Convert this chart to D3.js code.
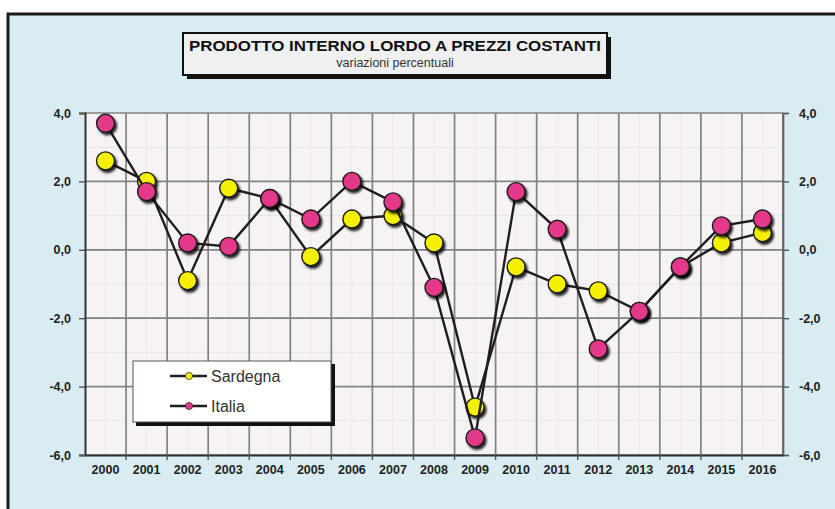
<!DOCTYPE html>
<html>
<head>
<meta charset="utf-8">
<script src="https://cdn.jsdelivr.net/npm/d3@7"></script>
<style>
  html, body { margin: 0; padding: 0; background: #ffffff; }
  svg { display: block; font-family: "Liberation Sans", Arial, sans-serif; }
</style>
</head>
<body>
<svg id="chart" width="835" height="509"></svg>
<script>
// Real GDP, annual percentage change
const years = ["2000","2001","2002","2003","2004","2005","2006","2007","2008",
               "2009","2010","2011","2012","2013","2014","2015","2016"];
const sardegna = [2.6, 2.0, -0.9, 1.8, 1.5, -0.2, 0.9, 1.0, 0.2,
                  -4.6, -0.5, -1.0, -1.2, -1.8, -0.5, 0.2, 0.5];
const italia   = [3.7, 1.7, 0.2, 0.1, 1.5, 0.9, 2.0, 1.4, -1.1,
                  -5.5, 1.7, 0.6, -2.9, -1.8, -0.5, 0.7, 0.9];
const yTicks = [-6, -4, -2, 0, 2, 4];
const seriesNames = ["Sardegna", "Italia"];
const seriesColors = ["#f4f000", "#e4388a"];

const titleMain = "PRODOTTO INTERNO LORDO A PREZZI COSTANTI";
const titleSub = "variazioni  percentuali";

const svg = d3.select("#chart");
const W = 835, H = 509;
const plot = { left: 85, right: 783, top: 113, bottom: 455 };

const defs = svg.append("defs");
const shadow = defs.append("filter").attr("id", "dotShadow")
  .attr("x", "-50%").attr("y", "-50%").attr("width", "200%").attr("height", "200%");
shadow.append("feDropShadow").attr("dx", 2).attr("dy", 2.5)
  .attr("stdDeviation", 1).attr("flood-color", "#000").attr("flood-opacity", 0.85);

// outer panel
svg.append("rect").attr("x", 8).attr("y", 14).attr("width", W).attr("height", H)
  .attr("fill", "#d9ecf2").attr("stroke", "#1a1a1a").attr("stroke-width", 3);

const x = d3.scaleBand().domain(years).range([plot.left, plot.right]).padding(0);
const y = d3.scaleLinear().domain([-6, 4]).range([plot.bottom, plot.top]);
const fmt = v => d3.format(".1f")(v).replace(".", ",").replace("−", "-");

// plot area
svg.append("rect")
  .attr("x", plot.left).attr("y", plot.top)
  .attr("width", plot.right - plot.left).attr("height", plot.bottom - plot.top)
  .attr("fill", "#f7f3f5");

// faint minor grid
const g = svg.append("g");
g.selectAll("line.minor-h").data(d3.range(-5, 4, 2)).join("line")
  .attr("x1", plot.left).attr("x2", plot.right)
  .attr("y1", d => y(d)).attr("y2", d => y(d))
  .attr("stroke", "#e8e4e8").attr("stroke-width", 1);
g.selectAll("line.minor-v").data(years).join("line")
  .attr("x1", d => x(d) + x.bandwidth() / 2).attr("x2", d => x(d) + x.bandwidth() / 2)
  .attr("y1", plot.top).attr("y2", plot.bottom)
  .attr("stroke", "#ebe7eb").attr("stroke-width", 1);

// major grid
g.selectAll("line.gh").data(yTicks).join("line")
  .attr("x1", plot.left).attr("x2", plot.right)
  .attr("y1", d => y(d)).attr("y2", d => y(d))
  .attr("stroke", "#828282").attr("stroke-width", 1.7);
g.selectAll("line.gv").data(years.slice(1)).join("line")
  .attr("x1", d => x(d)).attr("x2", d => x(d))
  .attr("y1", plot.top).attr("y2", plot.bottom)
  .attr("stroke", "#828282").attr("stroke-width", 1.7);
// right border
g.append("line").attr("x1", plot.right).attr("x2", plot.right)
  .attr("y1", plot.top).attr("y2", plot.bottom)
  .attr("stroke", "#666").attr("stroke-width", 1.7);

// axes
const leftAxis = d3.axisLeft(y).tickValues(yTicks).tickFormat(fmt).tickSize(6).tickPadding(8);
const rightAxis = d3.axisRight(y).tickValues(yTicks).tickFormat(fmt).tickSize(6).tickPadding(10);
const bottomAxis = d3.axisBottom(x).tickSize(0).tickPadding(10);

function styleAxis(sel) {
  sel.select(".domain").attr("stroke", "#333").attr("stroke-width", 2);
  sel.selectAll(".tick line").attr("stroke", "#555").attr("stroke-width", 1.4);
  sel.selectAll(".tick text")
    .attr("fill", "#222").style("font-size", "12.5px").style("font-weight", "bold")
    .style("font-family", "'Liberation Sans', Arial, sans-serif");
}
svg.append("g").attr("transform", `translate(${plot.left},0)`).call(leftAxis).call(styleAxis);
svg.append("g").attr("transform", `translate(${plot.right},0)`).call(rightAxis).call(styleAxis)
  .call(s => s.select(".domain").attr("stroke", "#666").attr("stroke-width", 1.7));
const bx = svg.append("g").attr("transform", `translate(0,${plot.bottom})`).call(bottomAxis).call(styleAxis);
// small ticks below the x axis at category boundaries
bx.selectAll("line.bt").data(years.slice(1)).join("line")
  .attr("x1", d => x(d)).attr("x2", d => x(d)).attr("y1", 0).attr("y2", 5)
  .attr("stroke", "#555").attr("stroke-width", 1.4);

// series
const series = [sardegna, italia];
const line = d3.line().x((d, i) => x(years[i]) + x.bandwidth() / 2).y(d => y(d));
series.forEach((vals, si) => {
  const sg = svg.append("g");
  sg.append("path").datum(vals).attr("d", line)
    .attr("fill", "none").attr("stroke", "#1e1e1e").attr("stroke-width", 2.4);
  sg.selectAll("circle").data(vals).join("circle")
    .attr("cx", (d, i) => x(years[i]) + x.bandwidth() / 2)
    .attr("cy", d => y(d))
    .attr("r", 9)
    .attr("fill", seriesColors[si]).attr("stroke", "#1a1a1a").attr("stroke-width", 1.4)
    .attr("filter", "url(#dotShadow)");
});

// legend
const lg = svg.append("g");
lg.append("rect").attr("x", 136).attr("y", 364).attr("width", 199).attr("height", 62).attr("fill", "#111");
lg.append("rect").attr("x", 133).attr("y", 361).attr("width", 198).attr("height", 61)
  .attr("fill", "#ffffff").attr("stroke", "#555").attr("stroke-width", 1);
seriesNames.forEach((name, i) => {
  const ly = 376 + i * 30;
  lg.append("line").attr("x1", 170).attr("x2", 207).attr("y1", ly).attr("y2", ly)
    .attr("stroke", "#1e1e1e").attr("stroke-width", 2.4);
  lg.append("circle").attr("cx", 189).attr("cy", ly).attr("r", 3.6)
    .attr("fill", seriesColors[i]).attr("stroke", "#333").attr("stroke-width", 0.8);
  lg.append("text").attr("x", 211).attr("y", ly + 6).text(name)
    .attr("fill", "#333").style("font-size", "16px");
});

// title box
const tg = svg.append("g");
tg.append("rect").attr("x", 187).attr("y", 37).attr("width", 424).attr("height", 42).attr("fill", "#111");
tg.append("rect").attr("x", 183).attr("y", 33).attr("width", 424).attr("height", 42)
  .attr("fill", "#eef0f2").attr("stroke", "#111").attr("stroke-width", 2);
tg.append("text").attr("x", 395).attr("y", 51).attr("text-anchor", "middle")
  .attr("textLength", 412).attr("lengthAdjust", "spacingAndGlyphs")
  .style("font-size", "15.5px").style("font-weight", "bold").attr("fill", "#111")
  .text(titleMain);
tg.append("text").attr("x", 395).attr("y", 67).attr("text-anchor", "middle")
  .style("font-size", "12.5px").attr("fill", "#333").text(titleSub);
</script>
</body>
</html>
